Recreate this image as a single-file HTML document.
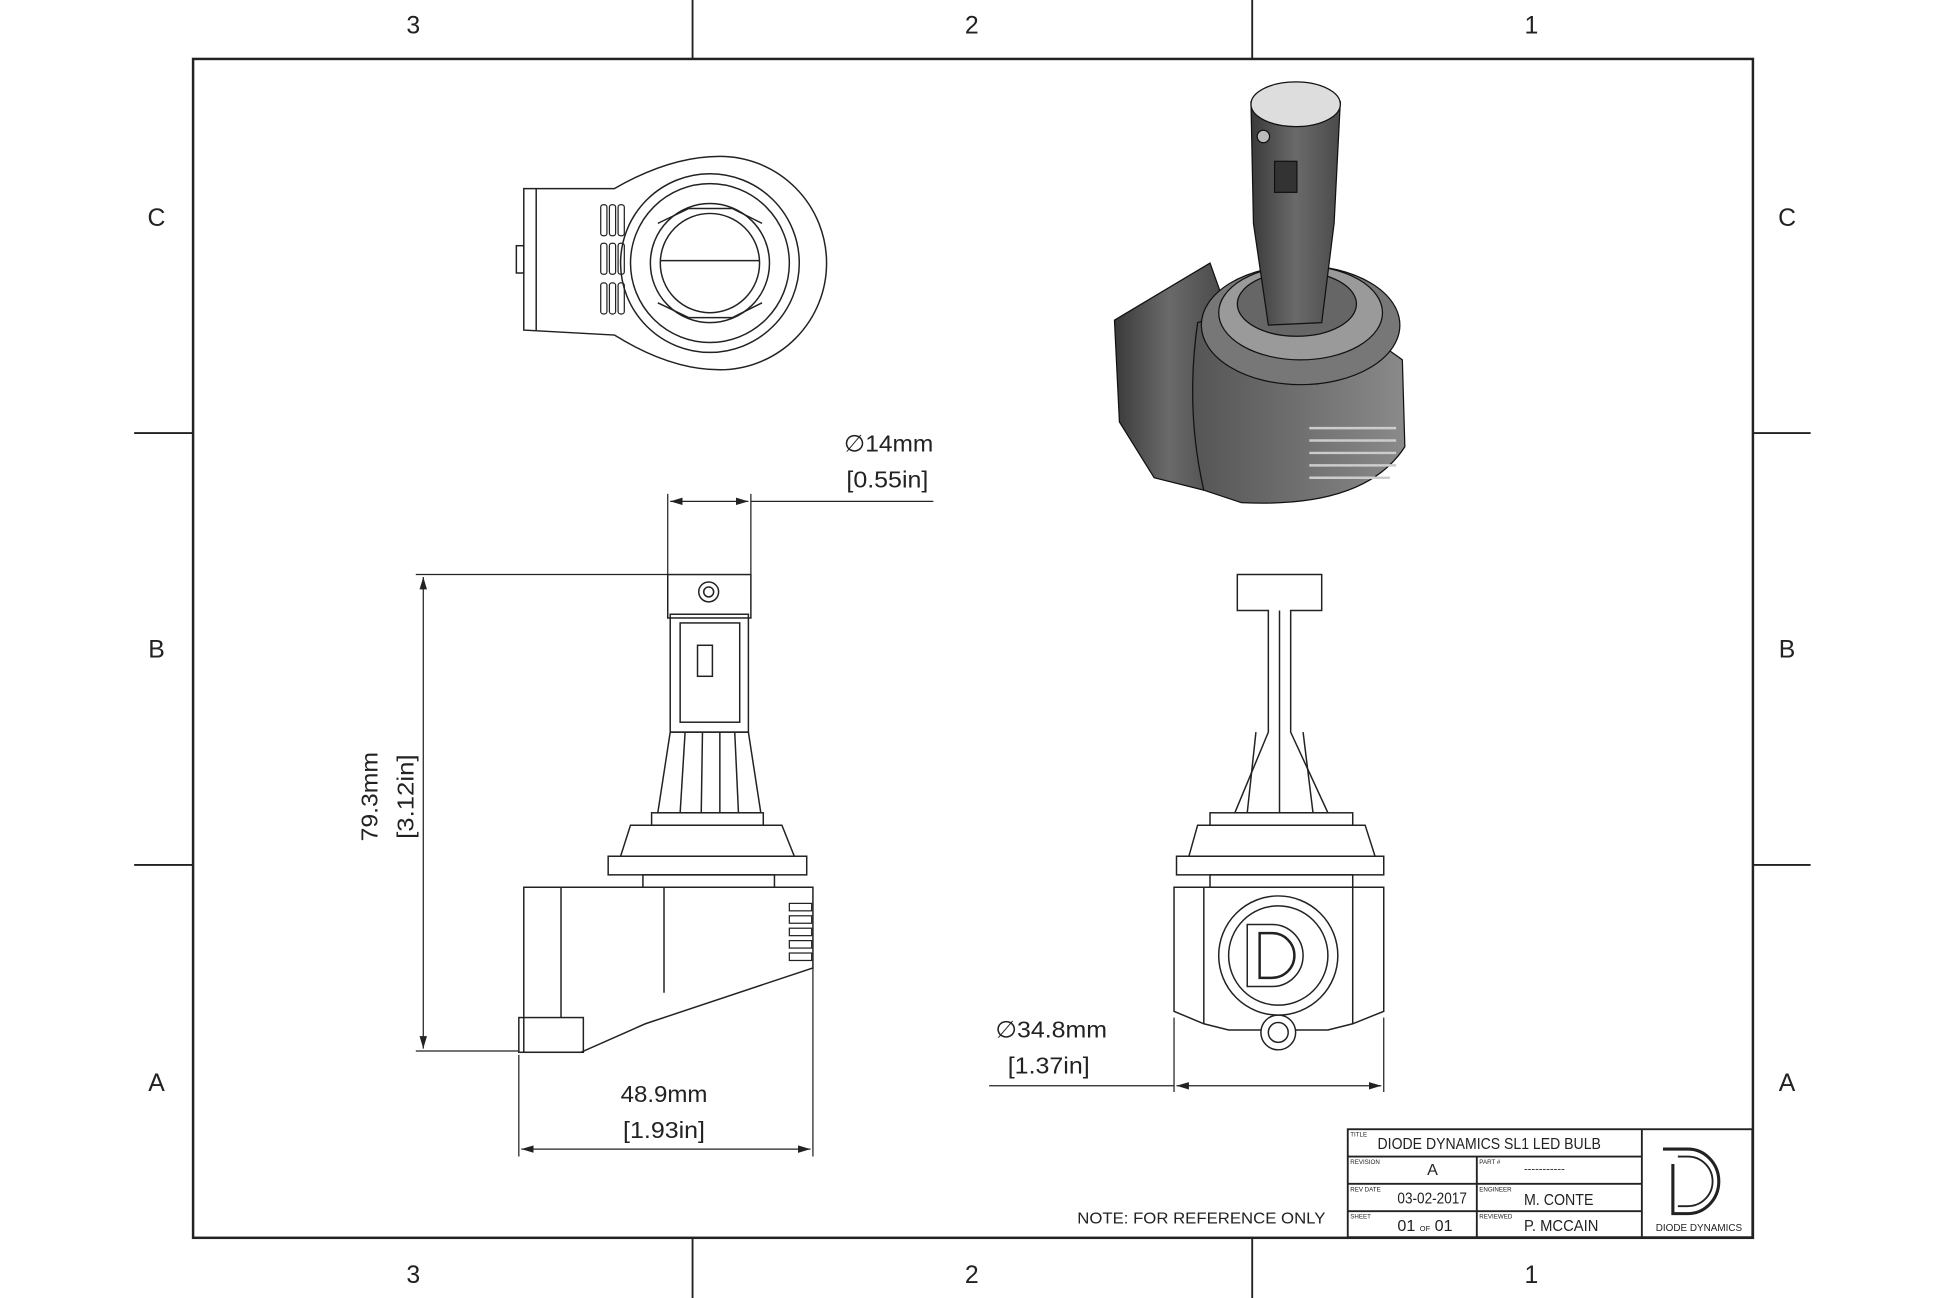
<!DOCTYPE html>
<html><head><meta charset="utf-8"><style>
html,body{margin:0;padding:0;background:#fff}
svg{display:block}
text{font-family:"Liberation Sans",sans-serif;fill:#222}
</style></head><body>
<svg width="1946" height="1298" viewBox="0 0 1568 1046" xmlns="http://www.w3.org/2000/svg">
<defs>
<marker id="ar" markerWidth="10" markerHeight="6" refX="10" refY="3" orient="auto-start-reverse" markerUnits="userSpaceOnUse"><path d="M0,0 L10,3 L0,6 z" fill="#222"/></marker>
<linearGradient id="g1" x1="0" x2="1"><stop offset="0" stop-color="#3a3a3a"/><stop offset="0.5" stop-color="#6a6a6a"/><stop offset="1" stop-color="#4a4a4a"/></linearGradient>
<linearGradient id="g2" x1="0" x2="1"><stop offset="0" stop-color="#555"/><stop offset="1" stop-color="#8a8a8a"/></linearGradient>
</defs>
<g stroke="#222" fill="none" stroke-width="1.5">
<rect x="155.5" y="47.5" width="1257" height="950" stroke-width="2"/>
<line x1="558" y1="0" x2="558" y2="47"/><line x1="1009" y1="0" x2="1009" y2="47"/>
<line x1="558" y1="997" x2="558" y2="1046"/><line x1="1009" y1="997" x2="1009" y2="1046"/>
<line x1="108" y1="349" x2="155" y2="349"/><line x1="108" y1="697" x2="155" y2="697"/>
<line x1="1412" y1="349" x2="1459" y2="349"/><line x1="1412" y1="697" x2="1459" y2="697"/>
</g>
<g font-size="20" text-anchor="middle">
<text x="333" y="27">3</text><text x="783" y="27">2</text><text x="1234" y="27">1</text>
<text x="333" y="1034">3</text><text x="783" y="1034">2</text><text x="1234" y="1034">1</text>
<text x="126" y="182">C</text><text x="126" y="530">B</text><text x="126" y="879">A</text>
<text x="1440" y="182">C</text><text x="1440" y="530">B</text><text x="1440" y="879">A</text>
</g>

<!-- top view -->
<g stroke="#222" fill="none" stroke-width="1.2">
<path d="M422,152 L495,152 Q540,126 580,126 A86,86 0 1 1 580,298 Q540,298 495,270 L422,266 Z"/>
<line x1="432" y1="152" x2="432" y2="266"/>
<rect x="416" y="198" width="6" height="22"/>
<circle cx="572" cy="212" r="72"/><circle cx="572" cy="212" r="64"/>
<circle cx="572" cy="212" r="48"/><circle cx="572" cy="212" r="40"/>
<line x1="532" y1="210" x2="612" y2="210"/>
<path d="M530,180 L555,168 L590,168 L614,180 M530,244 L555,256 L590,256 L614,244"/>
<g stroke-width="1">
<rect x="484" y="165" width="5" height="25" rx="2"/><rect x="491" y="165" width="5" height="25" rx="2"/><rect x="498" y="165" width="5" height="25" rx="2"/>
<rect x="484" y="196" width="5" height="25" rx="2"/><rect x="491" y="196" width="5" height="25" rx="2"/><rect x="498" y="196" width="5" height="25" rx="2"/>
<rect x="484" y="228" width="5" height="25" rx="2"/><rect x="491" y="228" width="5" height="25" rx="2"/><rect x="498" y="228" width="5" height="25" rx="2"/>
</g>
</g>

<!-- iso view -->
<g stroke="#111" stroke-width="1">
<path d="M898,258 L975,212 L985,240 Q960,270 965,330 L970,395 L930,385 L902,340 Z" fill="url(#g1)"/>
<path d="M965,260 Q1050,230 1130,290 L1132,360 Q1100,410 1000,405 L970,395 Q955,330 965,260 Z" fill="url(#g2)"/>
<ellipse cx="1048" cy="262" rx="80" ry="48" fill="#777"/>
<ellipse cx="1048" cy="252" rx="66" ry="38" fill="#9a9a9a"/>
<ellipse cx="1045" cy="245" rx="48" ry="26" fill="#666"/>
<path d="M1008,82 L1080,82 L1075,180 L1065,260 L1022,262 L1010,180 Z" fill="url(#g1)"/>
<ellipse cx="1044" cy="84" rx="36" ry="18" fill="#ddd"/>
<rect x="1027" y="130" width="18" height="25" fill="#333"/>
<circle cx="1018" cy="110" r="5" fill="#bbb"/>
<g stroke="#ccc" stroke-width="2"><line x1="1055" y1="345" x2="1125" y2="345"/><line x1="1055" y1="355" x2="1125" y2="355"/><line x1="1055" y1="365" x2="1125" y2="365"/><line x1="1055" y1="375" x2="1125" y2="375"/><line x1="1055" y1="385" x2="1120" y2="385"/></g>
</g>

<!-- front view -->
<g stroke="#222" fill="none" stroke-width="1.2">
<rect x="538" y="463" width="67" height="35"/>
<circle cx="571" cy="477" r="8"/><circle cx="571" cy="477" r="4"/>
<rect x="540" y="495" width="63" height="95"/>
<rect x="548" y="502" width="48" height="80"/>
<rect x="562" y="520" width="12" height="25"/>
<path d="M540,590 L530,655 L613,655 L603,590 Z"/>
<line x1="552" y1="590" x2="548" y2="655"/><line x1="566" y1="590" x2="565" y2="655"/><line x1="580" y1="590" x2="580" y2="655"/><line x1="592" y1="590" x2="595" y2="655"/>
<rect x="525" y="655" width="90" height="10"/>
<path d="M508,665 L630,665 L640,690 L500,690 Z"/>
<rect x="490" y="690" width="160" height="15"/>
<rect x="518" y="705" width="106" height="10"/>
<path d="M422,715 L655,715 L655,780 L520,825 L468,848 L422,848 Z"/>
<line x1="452" y1="715" x2="452" y2="820"/><line x1="535" y1="715" x2="535" y2="800"/>
<rect x="418" y="820" width="52" height="28"/>
<g stroke-width="1"><rect x="636" y="728" width="18" height="6"/><rect x="636" y="738" width="18" height="6"/><rect x="636" y="748" width="18" height="6"/><rect x="636" y="758" width="18" height="6"/><rect x="636" y="768" width="18" height="6"/></g>
</g>
<!-- dims front -->
<g stroke="#222" stroke-width="1" fill="none">
<line x1="335" y1="463" x2="538" y2="463"/><line x1="335" y1="847" x2="418" y2="847"/>
<line x1="341" y1="465" x2="341" y2="845" marker-start="url(#ar)" marker-end="url(#ar)"/>
<line x1="538" y1="398" x2="538" y2="463"/><line x1="605" y1="398" x2="605" y2="463"/>
<line x1="540" y1="404" x2="603" y2="404" marker-start="url(#ar)" marker-end="url(#ar)"/>
<line x1="605" y1="404" x2="752" y2="404"/>
<line x1="418" y1="850" x2="418" y2="932"/><line x1="655" y1="780" x2="655" y2="932"/>
<line x1="420" y1="926" x2="653" y2="926" marker-start="url(#ar)" marker-end="url(#ar)"/>
<line x1="946" y1="820" x2="946" y2="880"/><line x1="1115" y1="820" x2="1115" y2="880"/>
<line x1="797" y1="875" x2="946" y2="875"/>
<line x1="948" y1="875" x2="1113" y2="875" marker-start="url(#ar)" marker-end="url(#ar)"/>
</g>
<g font-size="19">
<text x="680" y="364" textLength="72" lengthAdjust="spacingAndGlyphs">∅14mm</text>
<text x="682" y="393" textLength="66" lengthAdjust="spacingAndGlyphs">[0.55in]</text>
<text x="500" y="888" textLength="70" lengthAdjust="spacingAndGlyphs">48.9mm</text>
<text x="502" y="917" textLength="66" lengthAdjust="spacingAndGlyphs">[1.93in]</text>
<text x="802" y="836" textLength="90" lengthAdjust="spacingAndGlyphs">∅34.8mm</text>
<text x="812" y="865" textLength="66" lengthAdjust="spacingAndGlyphs">[1.37in]</text>
<text transform="translate(304,678) rotate(-90)" textLength="72" lengthAdjust="spacingAndGlyphs">79.3mm</text>
<text transform="translate(333,676) rotate(-90)" textLength="68" lengthAdjust="spacingAndGlyphs">[3.12in]</text>
</g>

<!-- side view -->
<g stroke="#222" fill="none" stroke-width="1.2">
<path d="M997,463 L1065,463 L1065,492 L1040,492 L1040,590 L1070,655 L995,655 L1022,590 L1022,492 L997,492 Z"/>
<line x1="1012" y1="590" x2="1005" y2="655"/><line x1="1031" y1="492" x2="1031" y2="655"/><line x1="1050" y1="590" x2="1058" y2="655"/>
<rect x="975" y="655" width="115" height="10"/>
<path d="M965,665 L1100,665 L1108,690 L958,690 Z"/>
<rect x="948" y="690" width="167" height="15"/>
<rect x="975" y="705" width="115" height="10"/>
<path d="M946,715 L1115,715 L1115,815 L1090,825 L1070,830 L990,830 L970,825 L946,815 Z"/>
<line x1="970" y1="715" x2="970" y2="825"/><line x1="1090" y1="715" x2="1090" y2="825"/>
<circle cx="1030" cy="770" r="48"/><circle cx="1030" cy="770" r="40"/>
<path d="M1015,752 L1025,752 A18,18 0 0 1 1025,788 L1015,788 Z" stroke-width="2"/>
<path d="M1005,745 L1025,745 A25,25 0 0 1 1025,795 L1005,795 Z"/>
<circle cx="1030" cy="832" r="14" fill="#fff"/><circle cx="1030" cy="832" r="8"/>
</g>

<!-- title block -->
<g stroke="#222" fill="none" stroke-width="1.5">
<rect x="1086" y="910" width="326" height="87"/>
<line x1="1323" y1="910" x2="1323" y2="997"/>
<line x1="1086" y1="932" x2="1323" y2="932"/><line x1="1086" y1="954" x2="1323" y2="954"/><line x1="1086" y1="976" x2="1323" y2="976"/>
<line x1="1190" y1="932" x2="1190" y2="997"/>
<path d="M1340,926 L1360,926 A25,26 0 0 1 1360,978 L1348,978 L1348,938" stroke-width="2.5"/>
<path d="M1352,932 L1360,932 A20,20 0 0 1 1360,972 L1352,972" stroke-width="1.5"/>
</g>
<g font-size="5"><text x="1088" y="916">TITLE</text><text x="1088" y="938">REVISION</text><text x="1192" y="938">PART #</text><text x="1088" y="960">REV DATE</text><text x="1192" y="960">ENGINEER</text><text x="1088" y="982">SHEET</text><text x="1192" y="982">REVIEWED</text></g>
<g font-size="13">
<text x="1110" y="926" textLength="180" lengthAdjust="spacingAndGlyphs">DIODE DYNAMICS SL1 LED BULB</text>
<text x="1150" y="947">A</text>
<text x="1228" y="945" font-size="9">-----------</text>
<text x="1126" y="970" textLength="56" lengthAdjust="spacingAndGlyphs">03-02-2017</text>
<text x="1228" y="971" textLength="56" lengthAdjust="spacingAndGlyphs">M. CONTE</text>
<text x="1126" y="992">01 <tspan font-size="6">OF</tspan> 01</text>
<text x="1228" y="992" textLength="60" lengthAdjust="spacingAndGlyphs">P. MCCAIN</text>
<text x="868" y="986" textLength="200" lengthAdjust="spacingAndGlyphs">NOTE: FOR REFERENCE ONLY</text>
</g>
<text x="1369" y="992" font-size="8" text-anchor="middle" font-family="Liberation Serif">DIODE DYNAMICS</text>
</svg>
</body></html>
